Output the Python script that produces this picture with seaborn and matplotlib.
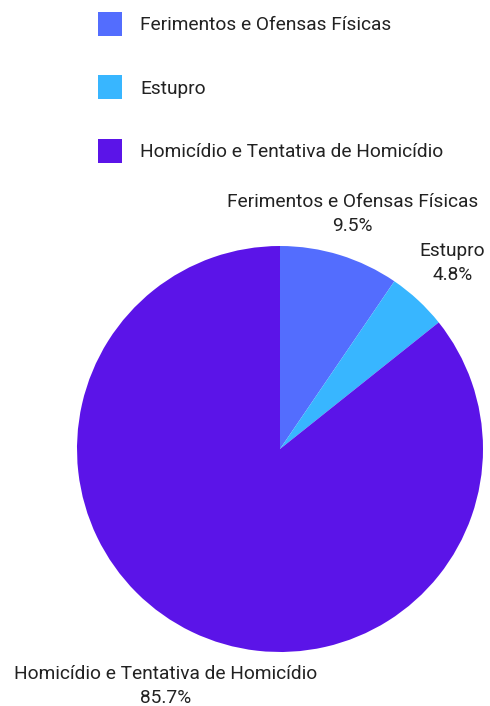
import numpy as np
import matplotlib
matplotlib.use("Agg")
import matplotlib.pyplot as plt
import seaborn as sns

categories = ["Ferimentos e Ofensas Físicas", "Estupro", "Homicídio e Tentativa de Homicídio"]
counts = [2, 1, 18]
colors = ["#536DFE", "#38B6FF", "#5B14E8"]

sns.set_theme(style="white")
plt.rcParams["font.family"] = ["Roboto", "DejaVu Sans"]

W, H = 490, 706
fig = plt.figure(figsize=(W / 100, H / 100), dpi=100)
fig.patch.set_facecolor("white")

# pie centre and radius in pixels
cx, cy, r = 280, 449, 203
ax = fig.add_axes([(cx - r) / W, (H - cy - r) / H, 2 * r / W, 2 * r / H])

wedges, _ = ax.pie(counts, colors=colors, startangle=90, counterclock=False,
                   wedgeprops=dict(linewidth=0), radius=1.0)
ax.set_xlim(-1, 1)
ax.set_ylim(-1, 1)
ax.set_aspect("equal")
ax.axis("off")

fs = 13.8
total = sum(counts)
label_dist = [1.21, 1.25, 1.297]
for w, name, n, d in zip(wedges, categories, counts, label_dist):
    mid = np.deg2rad((w.theta1 + w.theta2) / 2)
    ax.text(d * np.cos(mid), d * np.sin(mid), f"{name}\n{100 * n / total:.1f}%",
            ha="center", va="center", fontsize=fs, color="#222222",
            linespacing=1.4, clip_on=False)

fig.legend(wedges, categories, loc="upper left",
           bbox_to_anchor=(98 / W, 1 - 12 / H), frameon=False,
           borderpad=0, borderaxespad=0,
           fontsize=fs, handlelength=1.25, handleheight=1.55,
           labelspacing=2.05, handletextpad=0.94, labelcolor="#222222")

fig.savefig("out.png", dpi=100, facecolor="white")
